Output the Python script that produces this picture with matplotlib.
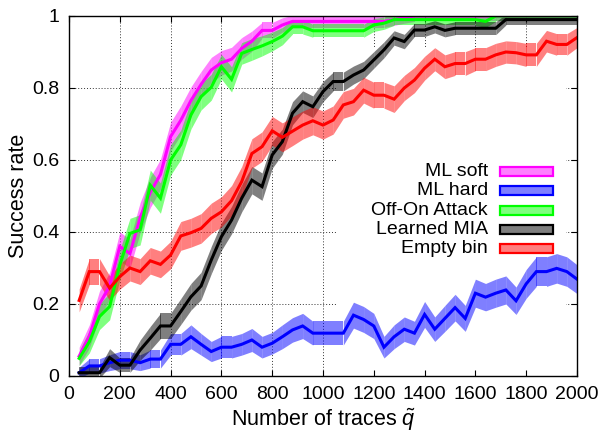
import matplotlib
matplotlib.use("Agg")
import matplotlib.pyplot as plt
from matplotlib.patches import Rectangle

plt.rcParams['font.family'] = ['Liberation Sans', 'DejaVu Sans']
plt.rcParams['mathtext.fontset'] = 'custom'
plt.rcParams['mathtext.rm'] = 'Liberation Sans'
plt.rcParams['mathtext.it'] = 'Liberation Sans:italic'

# number of traces used for each evaluation point
traces = [40, 80, 120, 160, 200, 240, 280, 320, 360, 400,
          440, 480, 520, 560, 600, 640, 680, 720, 760, 800,
          840, 880, 920, 960, 1000, 1040, 1080, 1120, 1160, 1200,
          1240, 1280, 1320, 1360, 1400, 1440, 1480, 1520, 1560, 1600,
          1640, 1680, 1720, 1760, 1800, 1840, 1880, 1920, 1960, 2000]

# success rates
ml_soft = [0.055, 0.11, 0.20, 0.25, 0.36, 0.34, 0.44, 0.51, 0.56, 0.665,
           0.71, 0.765, 0.81, 0.85, 0.87, 0.88, 0.91, 0.93, 0.96, 0.96,
           0.975, 0.985, 0.985, 0.985, 0.985, 0.985, 0.985, 0.985, 0.985, 0.985,
           0.985, 0.99, 0.995, 1.0, 1.0, 1.0, 1.0, 1.0, 1.0, 1.0,
           1.0, 1.0, 1.0, 1.0, 1.0, 1.0, 1.0, 1.0, 1.0, 1.0]
ml_hard = [0.009, 0.028, 0.028, 0.037, 0.044, 0.044, 0.037, 0.047, 0.047, 0.088,
           0.088, 0.109, 0.088, 0.068, 0.08, 0.08, 0.088, 0.1, 0.08, 0.091,
           0.109, 0.128, 0.139, 0.119, 0.119, 0.119, 0.119, 0.169, 0.157, 0.139,
           0.08, 0.109, 0.13, 0.119, 0.171, 0.13, 0.16, 0.19, 0.16, 0.23,
           0.219, 0.23, 0.239, 0.209, 0.256, 0.29, 0.29, 0.299, 0.29, 0.269]
off_on = [0.049, 0.095, 0.165, 0.193, 0.308, 0.396, 0.406, 0.53, 0.494, 0.60,
          0.642, 0.725, 0.776, 0.802, 0.859, 0.824, 0.896, 0.907, 0.917, 0.929,
          0.944, 0.97, 0.97, 0.959, 0.959, 0.959, 0.959, 0.959, 0.959, 0.975,
          0.98, 0.99, 0.99, 0.99, 0.99, 0.99, 0.99, 0.99, 0.99, 0.99,
          0.985, 1.0, 1.0, 1.0, 1.0, 1.0, 1.0, 1.0, 1.0, 1.0]
learned = [0.009, 0.009, 0.009, 0.051, 0.03, 0.03, 0.072, 0.105, 0.139, 0.139,
           0.179, 0.22, 0.25, 0.322, 0.387, 0.433, 0.494, 0.544, 0.526, 0.614,
           0.651, 0.73, 0.762, 0.748, 0.79, 0.818, 0.818, 0.836, 0.85, 0.878,
           0.906, 0.939, 0.929, 0.961, 0.961, 0.97, 0.96, 0.966, 0.966, 0.966,
           0.966, 0.966, 0.99, 0.99, 0.99, 0.99, 0.99, 0.99, 0.99, 0.99]
empty_bin = [0.21, 0.29, 0.29, 0.244, 0.276, 0.30, 0.29, 0.32, 0.31, 0.336,
             0.389, 0.398, 0.41, 0.438, 0.456, 0.487, 0.54, 0.618, 0.637, 0.681,
             0.663, 0.68, 0.697, 0.709, 0.697, 0.711, 0.753, 0.762, 0.794, 0.78,
             0.78, 0.769, 0.80, 0.822, 0.855, 0.88, 0.859, 0.868, 0.868, 0.88,
             0.88, 0.892, 0.90, 0.898, 0.892, 0.892, 0.93, 0.921, 0.921, 0.94]

# half widths of the confidence bands
ml_soft_err = [0.025, 0.032, 0.036, 0.038, 0.04, 0.04, 0.042, 0.042, 0.042, 0.04,
               0.04, 0.038, 0.036, 0.035, 0.034, 0.033, 0.03, 0.028, 0.022, 0.022,
               0.02, 0.017, 0.017, 0.017, 0.017, 0.017, 0.017, 0.017, 0.017, 0.017,
               0.017, 0.016, 0.015, 0.015, 0.015, 0.015, 0.015, 0.015, 0.015, 0.015,
               0.015, 0.015, 0.015, 0.015, 0.015, 0.015, 0.015, 0.015, 0.015, 0.015]
ml_hard_err = [0.015, 0.02, 0.02, 0.022, 0.024, 0.024, 0.022, 0.025, 0.025, 0.03,
               0.03, 0.033, 0.03, 0.028, 0.03, 0.03, 0.03, 0.032, 0.03, 0.03,
               0.033, 0.034, 0.035, 0.033, 0.033, 0.033, 0.033, 0.036, 0.036, 0.035,
               0.03, 0.033, 0.034, 0.033, 0.036, 0.034, 0.036, 0.037, 0.036, 0.039,
               0.038, 0.039, 0.039, 0.038, 0.04, 0.041, 0.041, 0.041, 0.041, 0.04]
off_on_err = [0.02, 0.031, 0.036, 0.037, 0.041, 0.042, 0.042, 0.042, 0.042, 0.042,
              0.041, 0.039, 0.037, 0.036, 0.034, 0.035, 0.03, 0.03, 0.028, 0.026,
              0.024, 0.02, 0.02, 0.018, 0.018, 0.018, 0.018, 0.018, 0.018, 0.018,
              0.017, 0.016, 0.016, 0.016, 0.016, 0.016, 0.016, 0.016, 0.016, 0.016,
              0.017, 0.015, 0.015, 0.015, 0.015, 0.015, 0.015, 0.015, 0.015, 0.015]
learned_err = [0.015, 0.015, 0.015, 0.025, 0.02, 0.02, 0.028, 0.033, 0.035, 0.035,
               0.036, 0.037, 0.038, 0.038, 0.038, 0.038, 0.038, 0.038, 0.038, 0.037,
               0.035, 0.032, 0.03, 0.03, 0.028, 0.026, 0.026, 0.025, 0.024, 0.023,
               0.022, 0.02, 0.02, 0.018, 0.018, 0.017, 0.018, 0.018, 0.018, 0.018,
               0.018, 0.018, 0.015, 0.015, 0.015, 0.015, 0.015, 0.015, 0.015, 0.015]
empty_bin_err = [0.032, 0.036, 0.036, 0.034, 0.035, 0.036, 0.036, 0.037, 0.037, 0.038,
                 0.04, 0.04, 0.041, 0.042, 0.042, 0.042, 0.042, 0.041, 0.041, 0.04,
                 0.04, 0.04, 0.039, 0.039, 0.039, 0.039, 0.037, 0.037, 0.036, 0.036,
                 0.036, 0.037, 0.035, 0.035, 0.033, 0.032, 0.033, 0.033, 0.033, 0.032,
                 0.032, 0.032, 0.031, 0.031, 0.032, 0.032, 0.03, 0.03, 0.03, 0.028]

labels = ['ML soft', 'ML hard', 'Off-On Attack', 'Learned MIA', 'Empty bin']
colors = ['#ff00ff', '#0000ff', '#00ff00', '#000000', '#ff0000']
series = [ml_soft, ml_hard, off_on, learned, empty_bin]
errors = [ml_soft_err, ml_hard_err, off_on_err, learned_err, empty_bin_err]

xticks = [0, 200, 400, 600, 800, 1000, 1200, 1400, 1600, 1800, 2000]
yticks = [0, 0.2, 0.4, 0.6, 0.8, 1]
ytick_labels = ['0', '0.2', '0.4', '0.6', '0.8', '1']

fig = plt.figure(figsize=(6.02, 4.34), dpi=100)
ax = fig.add_axes([69 / 602, 58 / 434, 508 / 602, 360 / 434])

# dotted grid, kept under the key area and the data
for xv in xticks[1:-1]:
    ax.axvline(xv, color='#333333', lw=0.7, ls=(0, (1, 2)), zorder=0.5)
for yv in yticks[1:-1]:
    ax.axhline(yv, color='#333333', lw=0.7, ls=(0, (1, 2)), zorder=0.5)
ax.add_patch(Rectangle((0.5276, 0.0), 0.4508, 0.914, transform=ax.transAxes,
                       facecolor='white', edgecolor='none', zorder=0.8))

# shaded bands, drawn one segment at a time
for ys, es, c in zip(series, errors, colors):
    lo = [y - e for y, e in zip(ys, es)]
    hi = [y + e for y, e in zip(ys, es)]
    for i in range(len(traces) - 1):
        ax.fill_between(traces[i:i + 2], lo[i:i + 2], hi[i:i + 2],
                        color=c, alpha=0.5, lw=0, zorder=2)

for ys, c in zip(series, colors):
    ax.plot(traces, ys, color=c, lw=2.2, zorder=3, solid_joinstyle='miter')

ax.set_xlim(0, 2000)
ax.set_ylim(0, 1)
ax.set_xticks(xticks)
ax.set_yticks(yticks, ytick_labels)
ax.tick_params(direction='in', top=True, right=True, length=4, width=0.8,
               labelsize=14, pad=7)
for s in ax.spines.values():
    s.set_linewidth(1.0)
    s.set_zorder(4)

ax.set_xlabel(r'Number of traces $\tilde{q}$', fontsize=15.5, labelpad=3)
ax.set_ylabel('Success rate', fontsize=15.5, labelpad=2)

# key: right-aligned names followed by outlined swatches
key_y = [0.5686, 0.5153, 0.4611, 0.4069, 0.3533]
for name, c, ky in zip(labels, colors, key_y):
    ax.text(0.8248, ky, name, transform=ax.transAxes, ha='right', va='center',
            fontsize=14, zorder=5)
    ax.add_patch(Rectangle((0.849, ky - 0.0125), 0.1037, 0.025,
                           transform=ax.transAxes, facecolor=c, alpha=0.5,
                           edgecolor='none', zorder=5))
    ax.add_patch(Rectangle((0.849, ky - 0.0125), 0.1037, 0.025,
                           transform=ax.transAxes, facecolor='none',
                           edgecolor=c, lw=1.6, zorder=5))

fig.savefig('out.png', dpi=100)
